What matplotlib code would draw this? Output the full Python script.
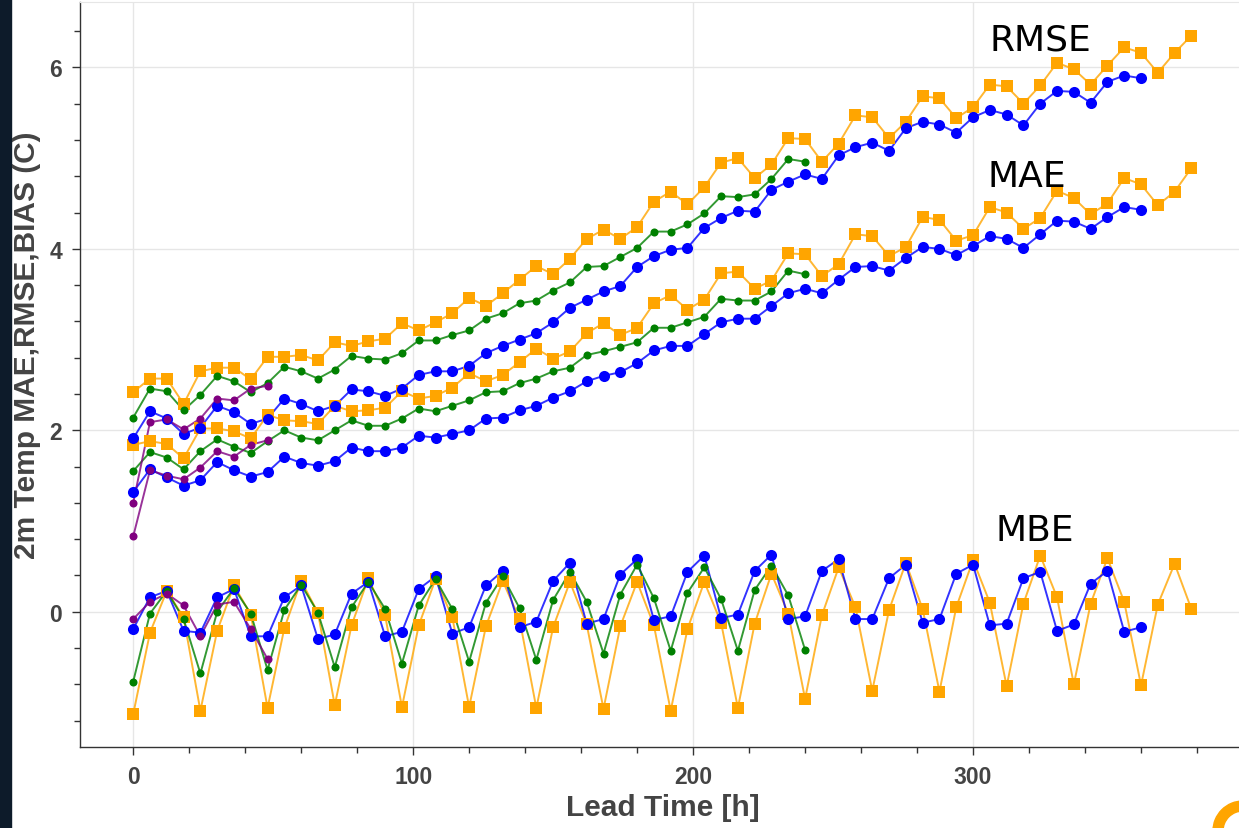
import matplotlib
matplotlib.use("Agg")
import matplotlib.pyplot as plt
from matplotlib.patches import Rectangle, Wedge
from matplotlib.ticker import MultipleLocator

plt.rcParams["font.family"] = ["Liberation Sans", "DejaVu Sans"]

# lead times in hours (6-hourly output)
lead_384 = list(range(0, 384, 6))
lead_360 = list(range(0, 366, 6))
lead_240 = list(range(0, 246, 6))
lead_48 = list(range(0, 54, 6))

# orange run (to 378 h)
rmse_384 = [2.42, 2.57, 2.57, 2.29, 2.65, 2.69, 2.69, 2.56, 2.81, 2.81,
            2.83, 2.77, 2.97, 2.93, 2.98, 3.01, 3.18, 3.10, 3.19, 3.29,
            3.46, 3.37, 3.51, 3.66, 3.81, 3.72, 3.89, 4.11, 4.21, 4.11,
            4.24, 4.52, 4.63, 4.49, 4.68, 4.95, 5.00, 4.78, 4.93, 5.22,
            5.21, 4.96, 5.16, 5.47, 5.45, 5.22, 5.40, 5.68, 5.66, 5.44,
            5.56, 5.81, 5.79, 5.60, 5.80, 6.05, 5.98, 5.81, 6.02, 6.22,
            6.16, 5.94, 6.16, 6.35]
mae_384 = [1.84, 1.88, 1.85, 1.69, 2.02, 2.02, 1.99, 1.91, 2.17, 2.11,
           2.10, 2.07, 2.27, 2.21, 2.22, 2.25, 2.43, 2.35, 2.38, 2.47,
           2.63, 2.54, 2.61, 2.75, 2.90, 2.79, 2.87, 3.07, 3.18, 3.05,
           3.13, 3.40, 3.49, 3.33, 3.44, 3.73, 3.75, 3.56, 3.65, 3.95,
           3.94, 3.70, 3.83, 4.16, 4.14, 3.92, 4.02, 4.35, 4.32, 4.09,
           4.15, 4.46, 4.40, 4.22, 4.34, 4.64, 4.56, 4.38, 4.50, 4.78,
           4.71, 4.48, 4.63, 4.89]
mbe_384 = [-1.13, -0.23, 0.23, -0.06, -1.09, -0.21, 0.29, -0.03, -1.06, -0.18,
           0.34, -0.01, -1.03, -0.15, 0.37, -0.04, -1.05, -0.15, 0.36, -0.06,
           -1.05, -0.16, 0.34, -0.08, -1.06, -0.17, 0.33, -0.14, -1.07, -0.16,
           0.33, -0.15, -1.09, -0.19, 0.33, -0.12, -1.06, -0.13, 0.42, -0.02,
           -0.96, -0.04, 0.49, 0.05, -0.87, 0.02, 0.54, 0.03, -0.88, 0.05,
           0.57, 0.10, -0.82, 0.09, 0.62, 0.16, -0.80, 0.09, 0.59, 0.11,
           -0.81, 0.08, 0.53, 0.03]

# blue run (to 360 h)
rmse_360 = [1.91, 2.21, 2.13, 1.96, 2.03, 2.27, 2.20, 2.07, 2.13, 2.35,
            2.29, 2.21, 2.27, 2.45, 2.43, 2.38, 2.46, 2.61, 2.65, 2.65,
            2.71, 2.85, 2.93, 3.00, 3.07, 3.19, 3.35, 3.44, 3.53, 3.59,
            3.80, 3.92, 3.99, 4.01, 4.23, 4.34, 4.42, 4.41, 4.65, 4.74,
            4.82, 4.77, 5.03, 5.12, 5.17, 5.08, 5.33, 5.40, 5.37, 5.28,
            5.45, 5.53, 5.48, 5.36, 5.60, 5.74, 5.73, 5.61, 5.84, 5.91,
            5.88]
mae_360 = [1.32, 1.57, 1.48, 1.39, 1.45, 1.65, 1.56, 1.49, 1.54, 1.71,
           1.64, 1.61, 1.66, 1.81, 1.77, 1.77, 1.81, 1.94, 1.92, 1.96,
           2.00, 2.13, 2.14, 2.22, 2.27, 2.36, 2.43, 2.54, 2.60, 2.64,
           2.74, 2.88, 2.93, 2.93, 3.06, 3.19, 3.23, 3.23, 3.37, 3.51,
           3.56, 3.51, 3.66, 3.80, 3.81, 3.76, 3.90, 4.02, 4.00, 3.93,
           4.03, 4.14, 4.11, 4.01, 4.16, 4.31, 4.30, 4.22, 4.35, 4.46,
           4.43]
mbe_360 = [-0.19, 0.16, 0.23, -0.21, -0.23, 0.16, 0.25, -0.27, -0.27, 0.16,
           0.29, -0.30, -0.25, 0.20, 0.33, -0.27, -0.22, 0.25, 0.39, -0.24,
           -0.17, 0.29, 0.45, -0.17, -0.11, 0.34, 0.54, -0.13, -0.08, 0.41,
           0.58, -0.09, -0.05, 0.44, 0.62, -0.07, -0.03, 0.45, 0.63, -0.08,
           -0.05, 0.45, 0.58, -0.08, -0.08, 0.37, 0.52, -0.12, -0.08, 0.42,
           0.52, -0.15, -0.13, 0.37, 0.44, -0.21, -0.14, 0.31, 0.45, -0.22,
           -0.17]

# green run (to 240 h)
rmse_240 = [2.14, 2.46, 2.43, 2.22, 2.39, 2.60, 2.54, 2.42, 2.52, 2.70,
            2.65, 2.57, 2.67, 2.82, 2.79, 2.78, 2.85, 2.99, 2.99, 3.05,
            3.10, 3.23, 3.29, 3.40, 3.43, 3.54, 3.63, 3.80, 3.81, 3.91,
            4.01, 4.19, 4.19, 4.27, 4.39, 4.58, 4.57, 4.60, 4.77, 4.99,
            4.96]
mae_240 = [1.55, 1.76, 1.70, 1.57, 1.77, 1.90, 1.82, 1.75, 1.88, 2.00,
           1.92, 1.89, 2.00, 2.11, 2.05, 2.05, 2.13, 2.24, 2.21, 2.27,
           2.33, 2.42, 2.43, 2.52, 2.57, 2.65, 2.69, 2.83, 2.87, 2.92,
           2.97, 3.13, 3.13, 3.19, 3.25, 3.45, 3.43, 3.43, 3.53, 3.76,
           3.72]
mbe_240 = [-0.77, -0.02, 0.23, -0.08, -0.68, 0.00, 0.26, -0.02, -0.64, 0.02,
           0.30, -0.01, -0.61, 0.05, 0.33, 0.03, -0.57, 0.07, 0.36, 0.03,
           -0.55, 0.10, 0.39, 0.04, -0.53, 0.13, 0.44, 0.11, -0.46, 0.19,
           0.52, 0.15, -0.43, 0.21, 0.49, 0.14, -0.43, 0.24, 0.51, 0.18,
           -0.42]

# purple run (to 48 h)
rmse_48 = [1.20, 2.09, 2.12, 2.01, 2.13, 2.35, 2.33, 2.46, 2.49]
mae_48 = [0.83, 1.56, 1.50, 1.46, 1.59, 1.77, 1.71, 1.84, 1.89]
mbe_48 = [-0.08, 0.11, 0.20, 0.07, -0.27, 0.08, 0.11, -0.19, -0.52]

W, H = 1239, 829
fig = plt.figure(figsize=(W / 100, H / 100), dpi=100)
fig.patch.set_facecolor("white")
ax = fig.add_axes([80 / W, 1 - 748 / H, 1 - 80 / W, (748 - 3) / H])

runs = [
    (lead_384, [rmse_384, mae_384, mbe_384], "orange", "s", 8.0),
    (lead_360, [rmse_360, mae_360, mbe_360], "blue", "o", 8.0),
    (lead_240, [rmse_240, mae_240, mbe_240], "green", "o", 5.8),
    (lead_48, [rmse_48, mae_48, mbe_48], "purple", "o", 5.8),
]
for x, metrics, color, marker, ms in runs:
    for y in metrics:
        ax.plot(x, y, color=color, lw=1.4, alpha=0.8, zorder=2)
        ax.plot(x, y, ls="none", marker=marker, ms=ms, color=color,
                markeredgewidth=0, zorder=3)

ax.set_xlim(-19, 395)
ax.set_ylim(-1.49, 6.72)
ax.xaxis.set_major_locator(MultipleLocator(100))
ax.xaxis.set_minor_locator(MultipleLocator(20))
ax.yaxis.set_major_locator(MultipleLocator(2))
ax.yaxis.set_minor_locator(MultipleLocator(0.4))
ax.grid(True, which="major", color="#e6e6e6", lw=1.0, zorder=0)
ax.set_axisbelow(True)

ax.spines["right"].set_visible(False)
ax.spines["top"].set_color("#e6e6e6")
for side in ("left", "bottom"):
    ax.spines[side].set_color("#333333")
    ax.spines[side].set_linewidth(1.0)

ax.tick_params(which="major", direction="out", length=6, width=1,
               color="#333333", labelcolor="#444444", labelsize=16.5, pad=7)
ax.tick_params(which="minor", direction="out", length=4, width=1, color="#333333")
for lbl in ax.get_xticklabels() + ax.get_yticklabels():
    lbl.set_fontweight("bold")

# metric annotations
ax.text(306, 6.2, "RMSE", fontsize=26, family="DejaVu Sans", color="black")
ax.text(305, 4.69, "MAE", fontsize=26, family="DejaVu Sans", color="black")
ax.text(308, 0.79, "MBE", fontsize=26, family="DejaVu Sans", color="black")

fig.text(663 / W, 1 - 808 / H, "Lead Time [h]", ha="center", va="center",
         fontsize=21.5, fontweight="bold", color="#444444")
fig.text(27 / W, 1 - 345 / H, "2m Temp MAE,RMSE,BIAS (C)", ha="center", va="center",
         rotation=90, fontsize=21.5, fontweight="bold", color="#444444")

# dark page edge on the left and logo corner
fig.patches.append(Rectangle((0, 0), 11 / W, 1, transform=fig.transFigure,
                             color="#0d1b2a", zorder=0))
fig.patches.append(Wedge((12.43, -0.03), 0.30, 0, 360, width=0.10,
                         transform=fig.dpi_scale_trans, color="orange"))

fig.savefig("out.png", dpi=100)
